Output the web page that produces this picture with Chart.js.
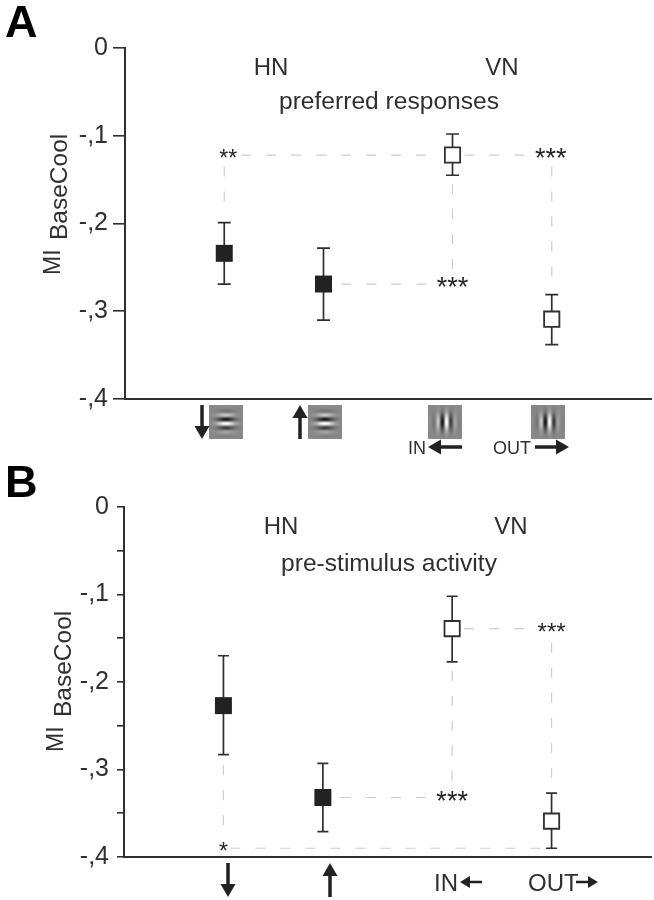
<!DOCTYPE html>
<html>
<head>
<meta charset="utf-8">
<title>MI BaseCool</title>
<script src="https://cdn.jsdelivr.net/npm/chart.js@4"></script>
<style>
    html, body { margin: 0; padding: 0; background: #fff; }
    .panel { position: absolute; left: 0; width: 654px; }
    canvas { display: block; }
</style>
</head>
<body>
<div class="panel" style="top: 0; height: 460px;"><canvas id="chartA" width="654" height="460"></canvas></div>
<div class="panel" style="top: 460px; height: 440px;"><canvas id="chartB" width="654" height="440"></canvas></div>
<script>
// stimulus conditions along the x axis (IN/OUT sit a bit further right)
const conditionX = [1, 2, 3.3, 4.3];
const filled = [true, true, false, false];
const tickLabels = ["0", "-,1", "-,2", "-,3", "-,4"];

const meansA = [-0.234, -0.269, -0.122, -0.309];
const highA = [-0.199, -0.228, -0.098, -0.281];
const lowA = [-0.269, -0.310, -0.145, -0.338];

const meansB = [-0.227, -0.332, -0.139, -0.359];
const highB = [-0.170, -0.293, -0.102, -0.327];
const lowB = [-0.283, -0.371, -0.177, -0.390];

const starTextA = ["**", "***", "***"];
const starXA = [1.04, 3.3, 4.29];
const starYA = [-0.122, -0.269, -0.122];

const starTextB = ["*", "***", "***"];
const starXB = [1, 3.3, 4.3];
const starYB = [-0.39, -0.332, -0.139];

// dashed guide lines, x then y for both ends
const guidesA = [
    [1.17, -0.122, 3.18, -0.122],
    [3.42, -0.122, 4.08, -0.122],
    [1, -0.135, 1, -0.190],
    [3.3, -0.155, 3.3, -0.255],
    [2.18, -0.269, 3.1, -0.269],
    [4.3, -0.135, 4.3, -0.275]
];
const guidesB = [
    [1, -0.295, 1, -0.375],
    [1.07, -0.39, 4.25, -0.39],
    [2.18, -0.332, 3.08, -0.332],
    [3.3, -0.187, 3.3, -0.320],
    [3.42, -0.139, 4.1, -0.139],
    [4.3, -0.155, 4.3, -0.318]
];

const INK = "#303030";
const FONT = "'Liberation Sans', Arial, sans-serif";

function drawText(ctx, text, x, y, size, align, weight) {
    ctx.font = (weight || "normal") + " " + size + "px " + FONT;
    ctx.textAlign = align || "left";
    ctx.textBaseline = "alphabetic";
    ctx.fillText(text, x, y);
}

function drawArrow(ctx, x1, y1, x2, y2, shaft, headLen, headWidth) {
    const angle = Math.atan2(y2 - y1, x2 - x1);
    ctx.save();
    ctx.translate(x2, y2);
    ctx.rotate(angle);
    const len = Math.hypot(x2 - x1, y2 - y1);
    ctx.fillStyle = "#222222";
    ctx.fillRect(-len, -shaft / 2, len - headLen + 1, shaft);
    ctx.beginPath();
    ctx.moveTo(0, 0);
    ctx.lineTo(-headLen, -headWidth / 2);
    ctx.lineTo(-headLen, headWidth / 2);
    ctx.closePath();
    ctx.fill();
    ctx.restore();
}

// grey stimulus square, just a picture under the axis
function makeGabor(size, horizontal, phase) {
    const off = document.createElement("canvas");
    off.width = size;
    off.height = size;
    const octx = off.getContext("2d");
    const img = octx.createImageData(size, size);
    const c = (size - 1) / 2;
    for (let j = 0; j < size; j++) {
        for (let i = 0; i < size; i++) {
            const dx = i - c;
            const dy = j - c;
            const d = horizontal ? dy : dx;
            const env = Math.exp(-(dx * dx + dy * dy) / (2 * 6 * 6));
            const v = 136 + 125 * env * Math.cos(2 * Math.PI * d / 9 + phase);
            const k = (j * size + i) * 4;
            img.data[k] = img.data[k + 1] = img.data[k + 2] = Math.max(0, Math.min(255, v));
            img.data[k + 3] = 255;
        }
    }
    octx.putImageData(img, 0, 0);
    return off;
}

function makePanel(id, means, high, low, starText, starX, starY, guides, look) {
    const guideSets = guides.map(g => ({
        type: "line",
        data: [{x: g[0], y: g[1]}, {x: g[2], y: g[3]}],
        borderColor: "#cdcdcd",
        borderWidth: 1.2,
        borderDash: [10, 15],
        pointRadius: 0,
        order: 5
    }));

    const panelMarks = {
        id: "panelMarks",
        beforeDatasetsDraw(chart) {
            const ctx = chart.ctx;
            const xs = chart.scales.x;
            const ys = chart.scales.y;
            ctx.save();
            ctx.strokeStyle = INK;
            ctx.lineWidth = 1.7;
            conditionX.forEach((cx, i) => {
                const px = xs.getPixelForValue(cx);
                const top = ys.getPixelForValue(high[i]);
                const bottom = ys.getPixelForValue(low[i]);
                ctx.beginPath();
                ctx.moveTo(px, top);
                ctx.lineTo(px, bottom);
                ctx.moveTo(px - look.cap, top);
                ctx.lineTo(px + look.cap, top);
                ctx.moveTo(px - look.cap, bottom);
                ctx.lineTo(px + look.cap, bottom);
                ctx.stroke();
            });
            ctx.restore();
        },
        afterDraw(chart) {
            const ctx = chart.ctx;
            const xs = chart.scales.x;
            const ys = chart.scales.y;
            ctx.save();

            // significance stars, the glyph centre sits about .46em above the baseline
            ctx.fillStyle = "#262626";
            starText.forEach((s, i) => {
                const size = look.starSizes[i];
                drawText(ctx, s, xs.getPixelForValue(starX[i]), ys.getPixelForValue(starY[i]) + size * 0.46, size, "center");
            });

            look.labels.forEach(l => {
                ctx.fillStyle = l[5] ? "#000000" : INK;
                drawText(ctx, l[0], l[1], l[2], l[3], l[4], l[5]);
            });

            // MI with its subscript, rotated
            ctx.fillStyle = INK;
            look.yTitle.forEach(t => {
                ctx.save();
                ctx.translate(t[1], t[2]);
                ctx.rotate(-Math.PI / 2);
                drawText(ctx, t[0], 0, 0, t[3]);
                ctx.restore();
            });

            look.gabors.forEach(g => ctx.drawImage(makeGabor(34, g[2], -1.19), g[0], g[1]));
            look.arrows.forEach(a => drawArrow(ctx, a[0], a[1], a[2], a[3], a[4], a[5], a[6]));
            ctx.restore();
        }
    };

    return new Chart(document.getElementById(id), {
        type: "scatter",
        data: {
            datasets: [{
                data: conditionX.map((cx, i) => ({x: cx, y: means[i]})),
                pointStyle: "rect",
                pointRadius: filled.map(f => f ? 12 : 10.8),
                pointBackgroundColor: filled.map(f => f ? "#222222" : "#ffffff"),
                pointBorderColor: filled.map(f => f ? "#222222" : INK),
                pointBorderWidth: filled.map(f => f ? 0 : 1.8),
                order: 1
            }].concat(guideSets)
        },
        options: {
            responsive: false,
            animation: false,
            layout: {padding: look.padding, autoPadding: false},
            plugins: {legend: {display: false}, tooltip: {enabled: false}},
            scales: {
                x: {
                    type: "linear",
                    min: 0,
                    max: 5.3,
                    afterFit(scale) { scale.height = 0; },
                    grid: {drawOnChartArea: false, drawTicks: false},
                    border: {color: INK, width: 2},
                    ticks: {display: false}
                },
                y: {
                    min: -0.4,
                    max: 0,
                    afterFit(scale) { scale.width = look.axisLeft; },
                    grid: {drawOnChartArea: false, tickLength: look.tickLength, color: INK, lineWidth: 1.6},
                    border: {color: INK, width: 2},
                    ticks: {
                        stepSize: look.step,
                        autoSkip: false,
                        padding: look.labelGap,
                        color: INK,
                        font: {family: FONT, size: 25},
                        callback(value) {
                            const tenth = -value * 10;
                            return Math.abs(tenth - Math.round(tenth)) < 0.01 ? tickLabels[Math.round(tenth)] : "";
                        }
                    }
                }
            }
        },
        plugins: [panelMarks]
    });
}

makePanel("chartA", meansA, highA, lowA, starTextA, starXA, starYA, guidesA, {
    padding: {top: 48, bottom: 61, left: 0, right: 3},
    axisLeft: 125,
    tickLength: 12,
    step: 0.1,
    labelGap: 5,
    cap: 6.5,
    starSizes: [23, 27, 27],
    labels: [
        ["A", 5, 37, 45, "left", "bold"],
        ["HN", 271, 75, 24, "center"],
        ["VN", 502, 75, 24, "center"],
        ["preferred responses", 389, 109, 24.6, "center"],
        ["IN", 408, 454, 18, "left"],
        ["OUT", 493, 454, 18, "left"]
    ],
    yTitle: [["MI", 60, 275, 23], ["BaseCool", 67, 240, 24.5]],
    gabors: [
        [209, 405, true],
        [308, 405, true],
        [428, 405, false],
        [531, 405, false]
    ],
    arrows: [
        [202, 405, 202, 439, 3.5, 13, 15],
        [300, 439, 300, 405, 3.5, 13, 15],
        [462, 447, 428, 447, 3.5, 13, 15],
        [535, 447, 569, 447, 3.5, 13, 15]
    ]
});

makePanel("chartB", meansB, highB, lowB, starTextB, starXB, starYB, guidesB, {
    padding: {top: 47, bottom: 43, left: 0, right: 3},
    axisLeft: 124,
    tickLength: 7,
    step: 0.05,
    labelGap: 8,
    cap: 5.5,
    starSizes: [23, 27, 24],
    labels: [
        ["B", 5, 37, 45, "left", "bold"],
        ["HN", 281, 74, 24, "center"],
        ["VN", 511, 74, 24, "center"],
        ["pre-stimulus activity", 389, 111, 24.6, "center"],
        ["IN", 434, 431, 24, "left"],
        ["OUT", 528, 431, 24, "left"]
    ],
    yTitle: [["MI", 63, 292, 23], ["BaseCool", 71, 257, 24.5]],
    gabors: [],
    arrows: [
        [228, 403, 228, 437, 3.5, 13, 15],
        [330, 437, 330, 403, 3.5, 13, 15],
        [482, 422, 460, 422, 2.5, 10, 12],
        [576, 422, 598, 422, 2.5, 10, 12]
    ]
});
</script>
</body>
</html>
